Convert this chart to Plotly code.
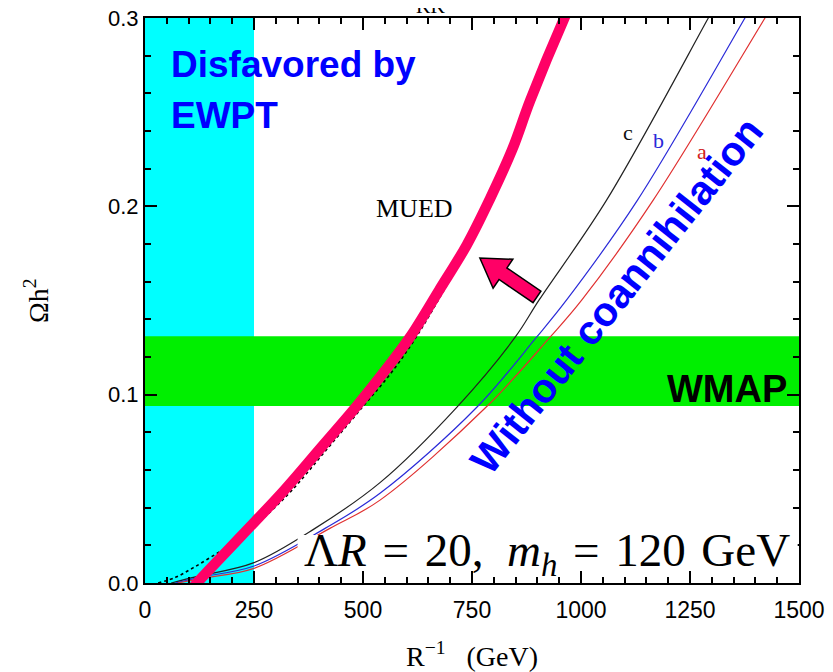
import plotly.graph_objects as go

# ---------------- data ----------------
mued_R = [100, 119, 221, 320, 403, 484, 548, 608, 675, 738, 790, 842, 884, 962, 986]
mued_O = [-0.005, 0.0, 0.025, 0.0494, 0.0717, 0.0935, 0.112, 0.1306, 0.1556, 0.1795, 0.2034, 0.230, 0.2565, 0.300, 0.312]

dot_R = [30, 70, 110, 160, 210, 265, 336, 417, 501, 566, 623, 687, 740]
dot_O = [0.0, 0.003, 0.008, 0.015, 0.022, 0.033, 0.049, 0.071, 0.094, 0.112, 0.131, 0.156, 0.178]

c_R = [60, 118, 250, 390, 539, 715, 849, 904, 1059, 1292, 1330]
c_O = [0.0, 0.0034, 0.0108, 0.029, 0.0533, 0.0933, 0.1305, 0.1503, 0.2034, 0.300, 0.316]
b_R = [70, 125, 250, 413, 539, 761, 898, 967, 1130, 1376, 1412]
b_O = [0.0, 0.003, 0.009, 0.029, 0.0476, 0.0933, 0.1305, 0.1503, 0.2034, 0.300, 0.3145]
a_R = [75, 130, 250, 424, 539, 782, 929, 1002, 1166, 1422, 1460]
a_O = [0.0, 0.0025, 0.0078, 0.029, 0.044, 0.0933, 0.1305, 0.1503, 0.2034, 0.300, 0.3145]

ewpt_band = [0, 250]          # R^-1 excluded region
wmap_band = [0.094, 0.131]    # Omega h^2 band

x_range = [0, 1500]
y_range = [0, 0.3]
x_ticks = [0, 250, 500, 750, 1000, 1250, 1500]
y_ticks = [0.0, 0.1, 0.2, 0.3]

# ---------------- layout geometry ----------------
# the page body adds an 8px margin, so the figure is shrunk and shifted to compensate
OFF = 8
W, H = 833, 672
ML, MR, MT, MB = 145, 34, 18, 89
PW, PH = W - ML - MR, H - MT - MB
sx = PW / (x_range[1] - x_range[0])
sy = PH / (y_range[1] - y_range[0])

PINK = "#ff0066"
SERIF = "Liberation Serif, Times New Roman, serif"
SANS = "Liberation Sans, Arial, sans-serif"

fig = go.Figure()

fig.add_trace(go.Scatter(x=dot_R, y=dot_O, mode="lines", line=dict(color="black", width=1.6, dash="dot", shape="spline"), hoverinfo="skip"))
fig.add_trace(go.Scatter(x=c_R, y=c_O, mode="lines", line=dict(color="#222222", width=1.2, shape="spline"), hoverinfo="skip"))
fig.add_trace(go.Scatter(x=b_R, y=b_O, mode="lines", line=dict(color="#2a2ad8", width=1.2, shape="spline"), hoverinfo="skip"))
fig.add_trace(go.Scatter(x=a_R, y=a_O, mode="lines", line=dict(color="#e03030", width=1.2, shape="spline"), hoverinfo="skip"))
fig.add_trace(go.Scatter(x=mued_R, y=mued_O, mode="lines", line=dict(color=PINK, width=10.5, shape="spline"), hoverinfo="skip"))

shapes = [
    dict(type="rect", xref="x", yref="y", x0=ewpt_band[0], x1=ewpt_band[1], y0=y_range[0], y1=y_range[1],
         fillcolor="#00ffff", line=dict(width=0), layer="below"),
    dict(type="rect", xref="x", yref="y", x0=x_range[0], x1=x_range[1], y0=wmap_band[0], y1=wmap_band[1],
         fillcolor="#00ef00", line=dict(width=0), layer="below"),
    # white box behind the parameter label
    dict(type="rect", xref="x", yref="y", x0=350, x1=1497, y0=0.007, y1=0.0255,
         fillcolor="white", line=dict(width=0), layer="above"),
]

# arrow polygon (computed in pixel space, converted to data coords)
tip = (768, 0.1726)
tail = (899, 0.1519)
def to_px(p):
    return ((p[0] - x_range[0]) * sx, -(p[1] - y_range[0]) * sy)
def to_data(q):
    return (q[0] / sx + x_range[0], -q[1] / sy + y_range[0])
tp, tl = to_px(tip), to_px(tail)
dx, dy = tl[0] - tp[0], tl[1] - tp[1]
ln = (dx * dx + dy * dy) ** 0.5
ux, uy = dx / ln, dy / ln
nx, ny = -uy, ux
HL, HW, SW = 28, 17.5, 7
bx, by = tp[0] + HL * ux, tp[1] + HL * uy
pts_px = [tp,
          (bx + HW * nx, by + HW * ny),
          (bx + SW * nx, by + SW * ny),
          (tl[0] + SW * nx, tl[1] + SW * ny),
          (tl[0] - SW * nx, tl[1] - SW * ny),
          (bx - SW * nx, by - SW * ny),
          (bx - HW * nx, by - HW * ny)]
pts = [to_data(q) for q in pts_px]
path = "M " + " L ".join(f"{p[0]:.3f},{p[1]:.5f}" for p in pts) + " Z"
shapes.append(dict(type="path", xref="x", yref="y", path=path, fillcolor=PINK,
                   line=dict(color="black", width=1.5), layer="above"))

def px2paper(px, py):
    return (px - ML) / PW, (H - MB - py) / PH

annotations = []
def ann(text, x, y, size, color="black", family=SERIF, xanchor="center", yanchor="middle", angle=0, xref="x", yref="y"):
    annotations.append(dict(text=text, x=x, y=y, xref=xref, yref=yref, showarrow=False,
                            font=dict(size=size, color=color, family=family),
                            xanchor=xanchor, yanchor=yanchor, textangle=angle))

ann("MUED", 619, 0.199, 26)
ann("c", 1108, 0.239, 22, color="#111111")
ann("b", 1177, 0.235, 22, color="#2a2ad8")
ann("a", 1277, 0.229, 22, color="#d02020")
ann("<b>Disfavored by</b>", 56, 0.2754, 37, color="#0000ff", family=SANS, xanchor="left")
ann("<b>EWPT</b>", 56, 0.2482, 37, color="#0000ff", family=SANS, xanchor="left")
ann("<b>WMAP</b>", 1477, 0.1030, 38, color="black", family=SANS, xanchor="right")
ann("<b>Without coannihilation</b>", 1081, 0.1525, 41, color="#0000ff", family=SANS, angle=-51.5)
ann("Λ<i>R</i>\u2004=\u200420,\u00a0\u00a0<i>m</i><sub><i>h</i></sub>\u2004=\u2004120\u2004GeV",
    1484, 0.0155, 47, xanchor="right")

px_, py_ = px2paper(472, 654)
ann("R<sup>−1</sup>\u00a0\u00a0\u00a0(GeV)", px_, py_, 28, xref="paper", yref="paper")
px_, py_ = px2paper(36, 301)
ann("Ωh<sup>2</sup>", px_, py_, 28, angle=-90, xref="paper", yref="paper")
px_, py_ = px2paper(430, 19)
ann("KK", px_, py_, 20, yanchor="bottom", xref="paper", yref="paper")

axis_common = dict(showline=True, linecolor="black", linewidth=2, mirror="ticks",
                   ticks="inside", ticklen=12, tickwidth=1.5, tickcolor="black",
                   showgrid=False, zeroline=False, automargin=False,
                   ticklabeloverflow="allow")

fig.update_layout(
    width=W - OFF, height=H - OFF,
    margin=dict(l=ML - OFF, r=MR, t=MT - OFF, b=MB, autoexpand=False),
    paper_bgcolor="white", plot_bgcolor="white", showlegend=False,
    shapes=shapes, annotations=annotations,
    xaxis=dict(range=x_range, tickvals=x_ticks, ticktext=[str(v) for v in x_ticks],
               tickfont=dict(family=SANS, size=23, color="black"), ticklabelstandoff=5,
               minor=dict(ticks="inside", ticklen=6, dtick=50, tickcolor="black", tickwidth=1.5),
               **axis_common),
    yaxis=dict(range=y_range, tickvals=y_ticks, ticktext=[f"{v:.1f}" for v in y_ticks],
               tickfont=dict(family=SANS, size=22, color="black"),
               minor=dict(ticks="inside", ticklen=6, dtick=0.02, tickcolor="black", tickwidth=1.5),
               **axis_common),
)

fig.write_html("out.html")
